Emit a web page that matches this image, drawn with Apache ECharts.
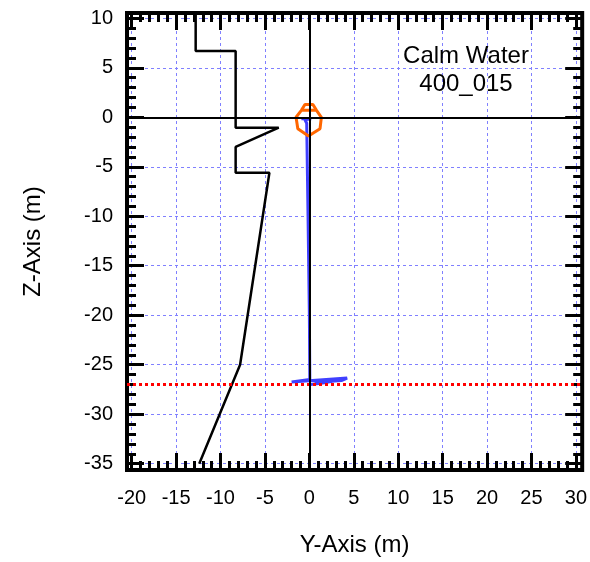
<!DOCTYPE html>
<html>
<head>
<meta charset="utf-8">
<script src="https://cdn.jsdelivr.net/npm/echarts@6/dist/echarts.min.js"></script>
<style>
  html, body { margin: 0; padding: 0; background: #fff; }
  #chart { width: 590px; height: 562px; }
</style>
</head>
<body>
<div id="chart"></div>
<script>
// Axis tick values (metres)
const yMajorTicks = [-20, -15, -10, -5, 0, 5, 10, 15, 20, 25, 30];
const zMajorTicks = [10, 5, 0, -5, -10, -15, -20, -25, -30, -35];
const yMinorTicks = [];
for (let v = -20; v <= 30; v++) if (v % 5 !== 0) yMinorTicks.push(v);
const zMinorTicks = [];
for (let v = -35; v <= 10; v++) if (v % 5 !== 0) zMinorTicks.push(v);

// Current profile (black polyline)
const profileY = [-12.8, -12.8, -8.3, -8.3, -3.45, -8.3, -8.3, -4.5, -7.8, -12.4];
const profileZ = [10.6, 6.7, 6.7, -1.05, -1.05, -3.0, -5.6, -5.6, -25.0, -35.0];

// Mooring line trace (blue)
const mooringY = [-0.9, 0.2, -0.5, -0.3, -0.15, 0.0, 0.05, -2.0, 4.25, 3.6, 0.6, 4.0, 1.5, 0.1];
const mooringZ = [-0.15, -0.15, -0.25, -0.6, -10, -20, -26.5, -26.75, -26.35, -26.6, -26.8, -26.45, -26.85, -27.0];

// Buoy / vessel outline (orange)
const vesselY = [-0.9, -0.5, 0.4, 0.8, -0.9, -1.5, -1.3, -0.1, 1.2, 1.35, 0.8];
const vesselZ = [0.7, 1.3, 1.3, 0.7, 0.7, 0.0, -1.15, -1.9, -1.15, 0.0, 0.7];

// Reference levels
const waterlineZ = 0;
const centerlineY = 0;
const seabedZ = -27;

const caseTitle = 'Calm Water';
const caseId = '400_015';

const FONT = "'Liberation Sans', Arial, Helvetica, sans-serif";
const Y_MIN = -20.53, Y_MAX = 30.71;
const Z_MIN = -35.64, Z_MAX = 10.535;

const zip = (a, b) => a.map((v, i) => [v, b[i]]);

function axisDef(pos, ticks, len, labels, split, min, max, margin) {
  return {
    type: 'value', position: pos, min: min, max: max,
    axisLine: { show: false, onZero: false },
    axisTick: { show: true, inside: true, length: len, customValues: ticks,
                lineStyle: { color: '#000', width: 3 } },
    axisLabel: labels ? { show: true, customValues: ticks, margin: margin,
                          color: '#000', fontSize: 20, fontFamily: FONT }
                      : { show: false },
    splitLine: split ? { show: true, lineStyle: { color: '#8080ff', width: 1, type: [3, 3] } }
                     : { show: false }
  };
}
const xAxisDef = (pos, ticks, len, labels, split) =>
  axisDef(pos, ticks, len, labels, split, Y_MIN, Y_MAX, 18);
const yAxisDef = (pos, ticks, len, labels, split) =>
  axisDef(pos, ticks, len, labels, split, Z_MIN, Z_MAX, 14);

const xMain = xAxisDef('bottom', yMajorTicks, 17, true, true);
xMain.name = 'Y-Axis (m)';
xMain.nameLocation = 'middle';
xMain.nameGap = 63;
xMain.nameTextStyle = { color: '#000', fontSize: 24, fontFamily: FONT };

const yMain = yAxisDef('left', zMajorTicks, 17, true, true);
yMain.name = 'Z-Axis (m)';
yMain.nameLocation = 'middle';
yMain.nameGap = 82;
yMain.nameTextStyle = { color: '#000', fontSize: 24, fontFamily: FONT };

const chart = echarts.init(document.getElementById('chart'), null, { renderer: 'canvas' });
chart.setOption({
  animation: false,
  backgroundColor: '#fff',
  grid: { left: 127, top: 13, width: 456, height: 457, show: true,
          borderColor: '#000', borderWidth: 4, backgroundColor: 'transparent' },
  xAxis: [
    xMain,
    xAxisDef('bottom', yMinorTicks, 9, false, false),
    xAxisDef('top', yMajorTicks, 17, false, false),
    xAxisDef('top', yMinorTicks, 9, false, false)
  ],
  yAxis: [
    yMain,
    yAxisDef('left', zMinorTicks, 9, false, false),
    yAxisDef('right', zMajorTicks, 17, false, false),
    yAxisDef('right', zMinorTicks, 9, false, false)
  ],
  graphic: [
    { type: 'text', x: 466, y: 56, z: 100,
      style: { text: caseTitle, align: 'center', verticalAlign: 'middle',
               fill: '#000', font: '24px ' + FONT } },
    { type: 'text', x: 466, y: 84, z: 100,
      style: { text: caseId, align: 'center', verticalAlign: 'middle',
               fill: '#000', font: '24px ' + FONT } }
  ],
  series: [
    {
      type: 'line', data: [], silent: true,
      markLine: {
        silent: true, symbol: 'none', animation: false, label: { show: false },
        data: [
          { yAxis: seabedZ, lineStyle: { color: '#ff0000', width: 3, type: [3, 3] } },
          { yAxis: waterlineZ, lineStyle: { color: '#000', width: 2, type: 'solid' } },
          { xAxis: centerlineY, lineStyle: { color: '#000', width: 2, type: 'solid' } }
        ]
      }
    },
    {
      name: 'profile', type: 'line', data: zip(profileY, profileZ),
      showSymbol: false, lineStyle: { color: '#000', width: 2.5 }, silent: true
    },
    {
      name: 'mooring', type: 'line', data: zip(mooringY, mooringZ),
      showSymbol: false, lineStyle: { color: '#4040ff', width: 3 }, silent: true
    },
    {
      name: 'vessel', type: 'line', data: zip(vesselY, vesselZ),
      showSymbol: false, lineStyle: { color: '#ff6600', width: 3 }, silent: true
    }
  ]
});
</script>
</body>
</html>
